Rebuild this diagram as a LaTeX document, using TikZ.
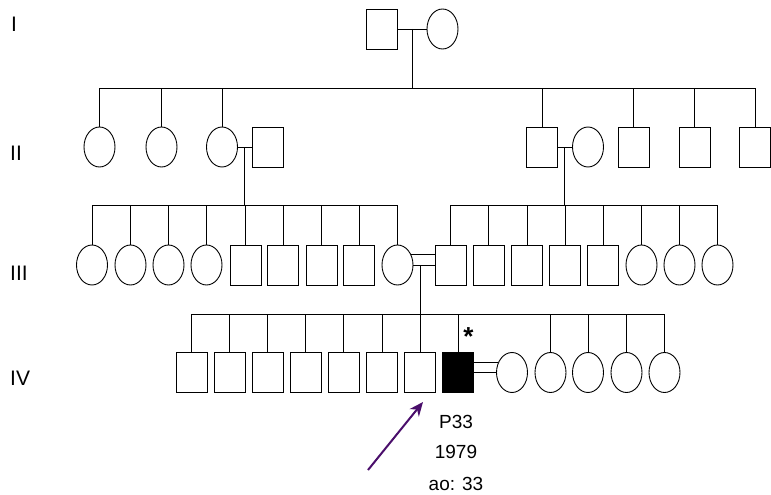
\documentclass[tikz,border=0pt]{standalone}
\usepackage{fontspec}
\setmainfont{Liberation Sans}
\usetikzlibrary{shapes.geometric,arrows.meta}
\definecolor{arrowpurple}{HTML}{4A0E6B}
\begin{document}
\begin{tikzpicture}[x=1pt,y=-1pt,
  male/.style={draw,rectangle,minimum width=31pt,minimum height=40pt,inner sep=0pt,line width=0.9pt},
  female/.style={draw,ellipse,minimum width=31pt,minimum height=40pt,inner sep=0pt,line width=0.9pt},
  affected/.style={fill=black},
  line/.style={line width=0.9pt},
  gen/.style={font=\fontsize{21}{21}\selectfont,anchor=base west,inner sep=0pt},
  info/.style={font=\fontsize{19}{19}\selectfont,anchor=base,inner sep=0pt}]
\useasboundingbox (0,0) rectangle (771,495);

% generation labels
\node[gen] (gI) at (11,31.5) {I};
\node[gen] (gII) at (10,160) {II};
\node[gen] (gIII) at (10,280) {III};
\node[gen] (gIV) at (10,385) {IV};

% sibship line levels
\coordinate (s2) at (0,88);
\coordinate (s3) at (0,205);
\coordinate (s4) at (0,314);

% Generation I
\node[male] (i1) at (381.5,29) {};
\node[female] (i2) at (442.5,29) {};
\coordinate (m1) at (412,29);
\draw[line] (i1.east) -- (i2.west);
\draw[line] (m1) -- (m1 |- s2);

% Generation II
\node[female] (ii1) at (99.5,147) {};
\node[female] (ii2) at (161.5,147) {};
\node[female] (ii3) at (222,147) {};
\node[male] (ii3s) at (267.5,147) {};
\node[male] (ii4) at (542,147) {};
\node[female] (ii4s) at (588,147) {};
\node[male] (ii5) at (633.5,147) {};
\node[male] (ii6) at (694.5,147) {};
\node[male] (ii7) at (755,147) {};
\draw[line] (ii1.north |- s2) -- (ii7.north |- s2);
\foreach \n in {ii1,ii2,ii3,ii4,ii5,ii6,ii7}
  \draw[line] (\n.north) -- (\n.north |- s2);
\draw[line] (ii3.east) -- (ii3s.west);
\draw[line] (ii4.east) -- (ii4s.west);
\coordinate (m2) at (244,147);
\coordinate (m3) at (564.5,147);
\draw[line] (m2) -- (m2 |- s3);
\draw[line] (m3) -- (m3 |- s3);

% Generation III
\foreach \n/\x in {iii1/92,iii2/130.5,iii3/168.5,iii4/206.5,iii9/397.5,iii15/641.5,iii16/679.5,iii17/717.5}
  \node[female] (\n) at (\x,265) {};
\foreach \n/\x in {iii5/245.5,iii6/283,iii7/321.5,iii8/359,iii10/450.5,iii11/488.5,iii12/527,iii13/565,iii14/603}
  \node[male] (\n) at (\x,265) {};
\draw[line] (iii1.north |- s3) -- (iii9.north |- s3);
\draw[line] (iii10.north |- s3) -- (iii17.north |- s3);
\foreach \n in {iii1,iii2,iii3,iii4,iii5,iii6,iii7,iii8,iii9,iii10,iii11,iii12,iii13,iii14,iii15,iii16,iii17}
  \draw[line] (\n.north) -- (\n.north |- s3);
% consanguineous marriage
\draw[line] (iii9.36.7) -- (iii9.36.7 -| iii10.west);
\draw[line] (iii9.east) -- (iii10.west);
\coordinate (m4) at (420,265);
\draw[line] (m4) -- (m4 |- s4);

% Generation IV
\foreach \n/\x in {iv1/191.5,iv2/229.5,iv3/267.5,iv4/305.5,iv5/343.5,iv6/382,iv7/420}
  \node[male] (\n) at (\x,372.5) {};
\node[male,affected] (iv8) at (458,372.5) {};
\foreach \n/\x in {iv8s/512,iv9/550.5,iv10/588,iv11/626.5,iv12/664.5}
  \node[female] (\n) at (\x,372.5) {};
\draw[line] (iv1.north |- s4) -- (iv12.north |- s4);
\foreach \n in {iv1,iv2,iv3,iv4,iv5,iv6,iv7,iv8,iv9,iv10,iv11,iv12}
  \draw[line] (\n.north) -- (\n.north |- s4);
\draw[line] (iv8.east |- iv8s.145) -- (iv8s.145);
\draw[line] (iv8.east) -- (iv8s.west);

% annotations
\node[font=\bfseries\fontsize{26}{26}\selectfont,inner sep=0pt,anchor=base] (ast) at (468.5,345) {*};
\node[info] (p33) at (456,428) {P33};
\node[info] (yr) at (456,458) {1979};
\node[info] (ao) at (456,490) {ao: 33};

% proband arrow
\coordinate (atail) at (368,470);
\coordinate (atip) at (423,402);
\draw[arrowpurple,line width=2pt,-{Stealth[length=14pt,width=12pt]}] (atail) -- (atip);
\end{tikzpicture}
\end{document}
